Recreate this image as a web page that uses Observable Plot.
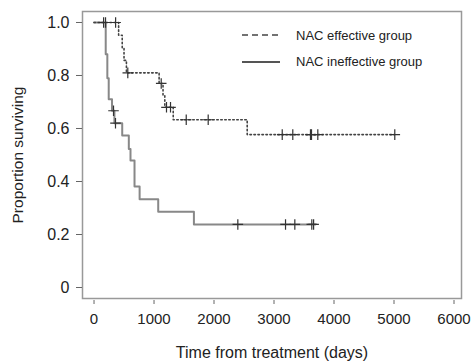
<!DOCTYPE html>
<html>
<head>
<meta charset="utf-8">
<script src="https://cdn.jsdelivr.net/npm/d3@7"></script>
<script src="https://cdn.jsdelivr.net/npm/@observablehq/plot@0.6"></script>
<style>
  body { margin: 0; background: white; }
  #wrap { position: relative; width: 471px; height: 362px; font-family: 'Liberation Sans', Arial, sans-serif; }
  #legend { position: absolute; left: 240px; top: 22px; font-size: 13px; color: #222; }
  #legend .row { display: flex; align-items: center; height: 26.5px; }
  #legend svg { margin-right: 16px; }
</style>
</head>
<body>
<div id="wrap">
  <div id="chart"></div>
  <div id="legend"></div>
</div>
<script>
// Series names
const groups = ["NAC effective group", "NAC ineffective group"];

// NAC effective group: event times (days) and survival after each step
const effTimes = [0, 410, 470, 500, 540, 1085, 1150, 1180, 1320, 2553];
const effSurv  = [1.0, 0.952, 0.905, 0.857, 0.81, 0.77, 0.725, 0.68, 0.633, 0.577];
const effEnd = 5013;
const effCensored = [360, 563, 1120, 1208, 1275, 1537, 1903, 3137, 3313, 3608, 3625, 3730, 5013];

// NAC ineffective group
const ineTimes = [0, 195, 222, 245, 300, 340, 470, 580, 608, 675, 760, 1070, 1665];
const ineSurv  = [1.0, 0.88, 0.79, 0.71, 0.667, 0.62, 0.574, 0.523, 0.479, 0.381, 0.333, 0.286, 0.238];
const ineEnd = 3690;
const ineCensored = [160, 192, 325, 358, 2397, 3192, 3347, 3630, 3660];

// Axis ticks
const xTicks = [0, 1000, 2000, 3000, 4000, 5000, 6000];
const xTickLabels = ["0", "1000", "2000", "3000", "4000", "5000", "6000"];
const yTicks = [0, 0.2, 0.4, 0.6, 0.8, 1.0];
const yTickLabels = ["0", "0.2", "0.4", "0.6", "0.8", "1.0"];

function curve(times, surv, end, group) {
  const pts = times.map((t, i) => ({t, s: surv[i], group}));
  pts.push({t: end, s: surv[surv.length - 1], group});
  return pts;
}
function levelAt(times, surv, t) {
  let s = surv[0];
  for (let i = 0; i < times.length; i++) if (times[i] <= t) s = surv[i];
  return s;
}
const effLine = curve(effTimes, effSurv, effEnd, groups[0]);
const ineLine = curve(ineTimes, ineSurv, ineEnd, groups[1]);
const censors = [
  ...effCensored.map(t => ({t, s: levelAt(effTimes, effSurv, t), group: groups[0]})),
  ...ineCensored.map(t => ({t, s: levelAt(ineTimes, ineSurv, t), group: groups[1]}))
];

const chart = Plot.plot({
  width: 471,
  height: 362,
  marginLeft: 82,
  marginRight: 10,
  marginTop: 11,
  marginBottom: 64,
  x: {domain: [-192, 6125]},
  y: {domain: [-0.0415, 1.0415]},
  style: {fontFamily: "'Liberation Sans', Arial, sans-serif", fontSize: "16px", color: "#222", background: "white"},
  marks: [
    Plot.frame({stroke: "#999", strokeWidth: 1.5}),
    Plot.axisX({ticks: xTicks, tickFormat: (d, i) => xTickLabels[i], tickSize: 4, dy: 2, tickPadding: 9, stroke: "#666", fontSize: 15,
      label: null}),
    Plot.axisX({ticks: [], label: "Time from treatment (days)", labelAnchor: "center", labelOffset: 59, labelArrow: "none", fontSize: 16}),
    Plot.axisY({ticks: yTicks, tickFormat: (d, i) => yTickLabels[i], tickSize: 6, tickPadding: 7, stroke: "#666", fontSize: 16,
      label: null}),
    Plot.axisY({ticks: [], label: "Proportion surviving", labelAnchor: "center", labelOffset: 71, labelArrow: "none", fontSize: 15.5}),
    Plot.line(ineLine, {x: "t", y: "s", curve: "step-after", stroke: "#888", strokeWidth: 2}),
    Plot.line(effLine, {x: "t", y: "s", curve: "step-after", stroke: "#444", strokeWidth: 1.6, strokeDasharray: "1.5,2.5"}),
    Plot.dot(censors, {x: "t", y: "s", symbol: "plus", r: 3.5, stroke: "#333", strokeWidth: 1.2})
  ]
});
document.getElementById("chart").appendChild(chart);

// Legend
const legend = document.getElementById("legend");
const styles = [
  {dash: "6,4", color: "#444", width: 1.6},
  {dash: null, color: "#555", width: 2}
];
groups.forEach((g, i) => {
  const row = document.createElement("div");
  row.className = "row";
  const st = styles[i];
  row.innerHTML = `<svg width="40" height="6"><line x1="2" x2="40" y1="3" y2="3" stroke="${st.color}" stroke-width="${st.width}" ${st.dash ? `stroke-dasharray="${st.dash}"` : ""}/></svg><span>${g}</span>`;
  legend.appendChild(row);
});
</script>
</body>
</html>
